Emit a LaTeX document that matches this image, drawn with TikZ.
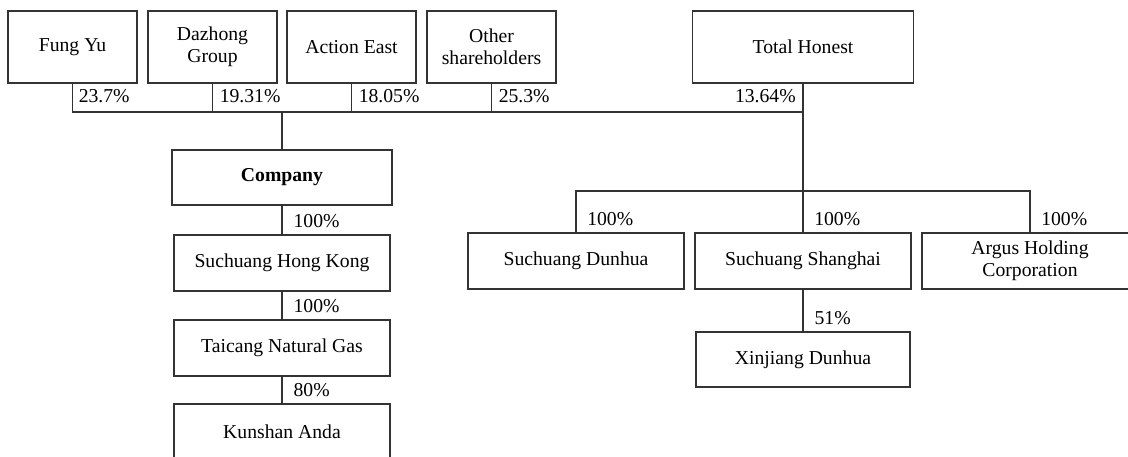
\documentclass[tikz,border=0pt]{standalone}
\usepackage{fontspec}
\setmainfont{Liberation Serif}
\usepackage{tikz}

\begin{document}
\begin{tikzpicture}[x=0.025cm, y=-0.025cm,
        font=\fontsize{14pt}{15.8pt}\selectfont,
        owner/.style = {draw=black!80, line width=0.8pt, align=center, minimum width=3.225cm, minimum height=1.8cm, inner sep=2pt},
        firm/.style = {draw=black!80, line width=0.8pt, align=center, minimum width=5.4cm, minimum height=1.4cm, inner sep=2pt},
        link/.style = {draw=black!80, line width=0.8pt},
        pct/.style = {inner sep=0pt, anchor=south west, xshift=11*0.025cm, yshift=6*0.025cm}
        ]
        \useasboundingbox (0,0) rectangle (1128,456);
        \clip (0,0) rectangle (1128,456);

        % shareholders
        \node[owner] (fy) at (72.5,47) {Fung Yu};
        \node[owner] (dz) at (212.5,47) {Dazhong\\Group};
        \node[owner] (ae) at (351.5,47) {Action East};
        \node[owner] (os) at (491.5,47) {Other\\shareholders};
        \node[owner, minimum width=5.525cm] (th) at (803,47) {Total Honest};

        % left branch
        \node[firm, minimum width=5.5cm, minimum height=1.375cm] (co) at (282,177.5) {\textbf{Company}};
        \node[firm] (hk) at (282,263) {Suchuang Hong Kong};
        \node[firm] (tc) at (282,348) {Taicang Natural Gas};
        \node[firm] (ks) at (282,432) {Kunshan Anda};

        % right branch
        \node[firm] (dh) at (576,261) {Suchuang Dunhua};
        \node[firm] (sh) at (803,261) {Suchuang Shanghai};
        \node[firm] (ar) at (1030,261) {Argus Holding\\Corporation};
        \node[firm, minimum width=5.35cm, minimum height=1.375cm] (xj) at (803,359.5) {Xinjiang Dunhua};

        \coordinate (topbar) at (0,112);
        \coordinate (subbar) at (803,191);

        % top bar
        \draw[link] (fy.south) -- (fy.south |- topbar) -- (th.south |- topbar);
        \draw[link] (dz.south) -- (dz.south |- topbar);
        \draw[link] (ae.south) -- (ae.south |- topbar);
        \draw[link] (os.south) -- (os.south |- topbar);
        \draw[link] (co.north) -- (co.north |- topbar);
        \draw[link] (th.south) -- (sh.north);

        \node[anchor=west, inner sep=0pt] at ([xshift=6*0.025cm]fy.south |- 0,96) {23.7\%};
        \node[anchor=west, inner sep=0pt] at ([xshift=7*0.025cm]dz.south |- 0,96) {19.31\%};
        \node[anchor=west, inner sep=0pt] at ([xshift=7*0.025cm]ae.south |- 0,96) {18.05\%};
        \node[anchor=west, inner sep=0pt] at ([xshift=7*0.025cm]os.south |- 0,96) {25.3\%};
        \node[anchor=east, inner sep=0pt] at ([xshift=-7*0.025cm]th.south |- 0,96) {13.64\%};

        % left chain
        \draw[link] (co) -- (hk) node[pct, at end] {100\%};
        \draw[link] (hk) -- (tc) node[pct, at end] {100\%};
        \draw[link] (tc) -- (ks) node[pct, at end] {80\%};

        % right chain
        \draw[link] (dh.north) |- (subbar) -| (ar.north);
        \node[pct] at (dh.north) {100\%};
        \node[pct] at (sh.north) {100\%};
        \node[pct] at (ar.north) {100\%};
        \draw[link] (sh) -- (xj) node[pct, at end] {51\%};
    \end{tikzpicture}
\end{document}
